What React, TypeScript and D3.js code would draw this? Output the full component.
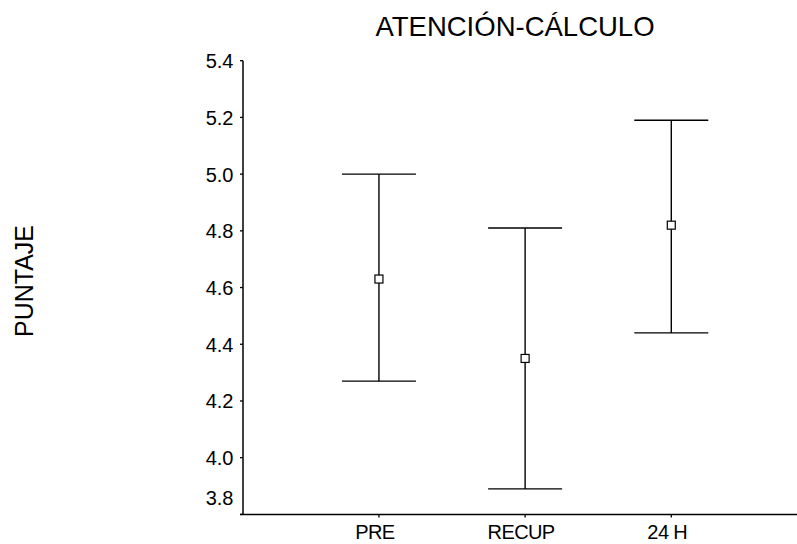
import React from "react";
import * as d3 from "d3";

const categories = ["PRE", "RECUP", "24 H"];
const means = [4.63, 4.35, 4.82];
const lowers = [4.27, 3.89, 4.44];
const uppers = [5.0, 4.81, 5.19];
const yTicks = [3.8, 4.0, 4.2, 4.4, 4.6, 4.8, 5.0, 5.2, 5.4];

const W = 797;
const H = 544;
const FONT = "'Liberation Sans', Arial, sans-serif";

export default function App() {
  const y = d3.scaleLinear().domain([3.8, 5.4]).range([514.4, 60.7]);
  const x = d3.scaleLinear().domain([0.07, 3.86]).range([243, 797]);
  const x0 = x(0.07);
  const yBottom = y(3.8);
  const capHalf = 37;
  const sq = 8;

  return (
    <svg
      width={W}
      height={H}
      style={{ position: "absolute", left: 0, top: 0, background: "#fff" }}
    >
      <rect x={0} y={0} width={W} height={H} fill="#fff" />
      <text
        x={515}
        y={36}
        textAnchor="middle"
        fontFamily={FONT}
        fontSize={27.5}
        fill="#000"
      >
        ATENCIÓN-CÁLCULO
      </text>
      <text
        transform={`translate(33,281) rotate(-90)`}
        textAnchor="middle"
        fontFamily={FONT}
        fontSize={25}
        fill="#000"
      >
        PUNTAJE
      </text>

      {/* y axis */}
      <line x1={x0} x2={x0} y1={y(5.4)} y2={yBottom} stroke="#000" strokeWidth={1.5} />
      {yTicks.map((t, i) => (
        <g key={t}>
          <line x1={x0 - 3} x2={x0} y1={y(t)} y2={y(t)} stroke="#000" strokeWidth={1.3} />
          <text
            x={233.5}
            y={y(t) + 7.5 - (i === 0 ? 17 : 0)}
            textAnchor="end"
            fontFamily={FONT}
            fontSize={20}
            fill="#000"
          >
            {t.toFixed(1)}
          </text>
        </g>
      ))}

      {/* x axis */}
      <line x1={x0 - 3} x2={W} y1={yBottom} y2={yBottom} stroke="#000" strokeWidth={1.5} />
      {categories.map((c, i) => (
        <g key={c}>
          <line x1={x(i + 1)} x2={x(i + 1)} y1={yBottom} y2={yBottom + 3} stroke="#000" strokeWidth={1.3} />
          <text
            x={x(i + 1) - 4}
            y={539.3}
            textAnchor="middle"
            fontFamily={FONT}
            fontSize={20}
            letterSpacing={-0.6}
            fill="#000"
          >
            {c}
          </text>
        </g>
      ))}

      {/* error bars */}
      {categories.map((c, i) => {
        const cx = x(i + 1);
        return (
          <g key={"eb" + c} stroke="#000" strokeWidth={1.4} fill="none">
            <line x1={cx} x2={cx} y1={y(uppers[i])} y2={y(lowers[i])} />
            <line x1={cx - capHalf} x2={cx + capHalf} y1={y(uppers[i])} y2={y(uppers[i])} />
            <line x1={cx - capHalf} x2={cx + capHalf} y1={y(lowers[i])} y2={y(lowers[i])} />
            <rect
              x={cx - sq / 2}
              y={y(means[i]) - sq / 2}
              width={sq}
              height={sq}
              fill="#fff"
              strokeWidth={1.2}
            />
          </g>
        );
      })}
    </svg>
  );
}
